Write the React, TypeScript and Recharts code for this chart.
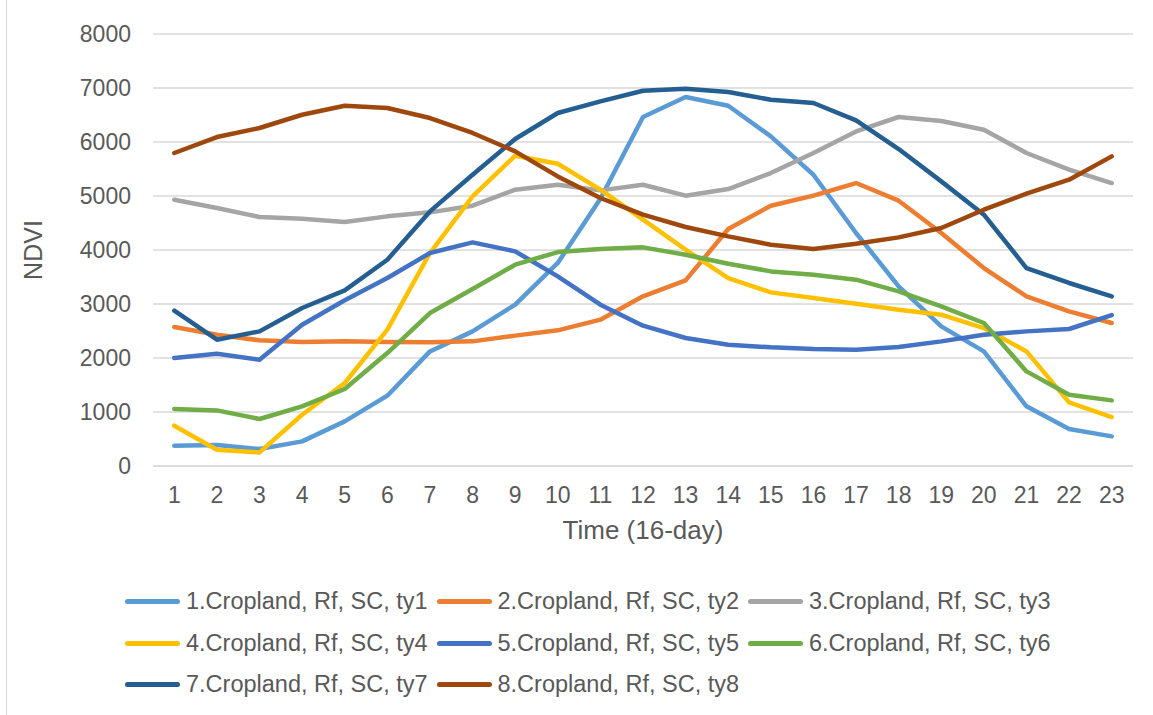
import { CartesianGrid, Label, Line, LineChart, XAxis, YAxis } from "recharts";

const periods = ["1", "2", "3", "4", "5", "6", "7", "8", "9", "10", "11", "12", "13", "14", "15", "16", "17", "18", "19", "20", "21", "22", "23"];

const ty1 = [376, 389, 315, 456, 826, 1302, 2122, 2493, 2987, 3760, 4950, 6463, 6833, 6672, 6104, 5394, 4315, 3327, 2586, 2123, 1105, 685, 549];
const ty2 = [2574, 2432, 2327, 2296, 2308, 2296, 2290, 2308, 2414, 2512, 2710, 3142, 3438, 4389, 4820, 5006, 5240, 4913, 4315, 3666, 3142, 2864, 2648];
const ty3 = [4932, 4777, 4611, 4580, 4518, 4623, 4697, 4820, 5117, 5209, 5104, 5209, 5006, 5129, 5425, 5796, 6196, 6463, 6390, 6228, 5796, 5487, 5240];
const ty4 = [746, 302, 252, 950, 1537, 2524, 3944, 4993, 5746, 5598, 5117, 4561, 4006, 3481, 3215, 3111, 3006, 2894, 2802, 2555, 2122, 1178, 907];
const ty5 = [2000, 2080, 1969, 2617, 3068, 3481, 3944, 4141, 3975, 3512, 2987, 2598, 2370, 2246, 2197, 2166, 2154, 2203, 2308, 2432, 2493, 2537, 2796];
const ty6 = [1055, 1030, 870, 1104, 1426, 2092, 2833, 3277, 3728, 3962, 4018, 4049, 3913, 3746, 3604, 3543, 3450, 3234, 2956, 2648, 1752, 1320, 1215];
const ty7 = [2876, 2339, 2493, 2926, 3252, 3820, 4715, 5394, 6055, 6537, 6752, 6950, 6987, 6925, 6783, 6722, 6400, 5870, 5271, 4654, 3666, 3389, 3142];
const ty8 = [5796, 6092, 6259, 6505, 6672, 6629, 6444, 6167, 5826, 5363, 4963, 4654, 4426, 4252, 4098, 4018, 4117, 4234, 4407, 4746, 5043, 5302, 5734];

const yTicks = [0, 1000, 2000, 3000, 4000, 5000, 6000, 7000, 8000];

const series = [
  { key: "ty1", name: "1.Cropland, Rf, SC, ty1", color: "#5B9BD5", values: ty1 },
  { key: "ty2", name: "2.Cropland, Rf, SC, ty2", color: "#ED7D31", values: ty2 },
  { key: "ty3", name: "3.Cropland, Rf, SC, ty3", color: "#A5A5A5", values: ty3 },
  { key: "ty4", name: "4.Cropland, Rf, SC, ty4", color: "#FFC000", values: ty4 },
  { key: "ty5", name: "5.Cropland, Rf, SC, ty5", color: "#4472C4", values: ty5 },
  { key: "ty6", name: "6.Cropland, Rf, SC, ty6", color: "#70AD47", values: ty6 },
  { key: "ty7", name: "7.Cropland, Rf, SC, ty7", color: "#255E91", values: ty7 },
  { key: "ty8", name: "8.Cropland, Rf, SC, ty8", color: "#9E480E", values: ty8 },
];

const data = periods.map((p, i) => {
  const row: Record<string, string | number> = { period: p };
  series.forEach((s) => (row[s.key] = s.values[i]));
  return row;
});

const font = "'Liberation Sans', Arial, sans-serif";
const textColor = "#595959";

// legend drawn as plain html below the plot so it doesn't shrink the plot area
function LegendBox() {
  return (
    <div style={{ position: "absolute", left: 125, top: 581, width: 960, display: "flex", flexWrap: "wrap", fontFamily: font, fontSize: 23.5, color: textColor }}>
      {series.map((s) => (
        <div key={s.key} style={{ width: 311.5, height: 41.5, display: "flex", alignItems: "center" }}>
          <span style={{ display: "inline-block", width: 55, height: 5, borderRadius: 3, background: s.color, marginRight: 6 }} />
          <span style={{ whiteSpace: "nowrap" }}>{s.name}</span>
        </div>
      ))}
    </div>
  );
}

export default function App() {
  return (
    <div style={{ position: "absolute", left: 0, top: 0, width: 1153, height: 715, background: "#fff" }}>
      <div style={{ position: "absolute", left: 6, top: 0, width: 1, height: 715, background: "#d9d9d9" }} />
      <LineChart width={1153} height={715} data={data} margin={{ top: 34, right: 20, bottom: 209, left: 0 }}>
        <CartesianGrid vertical={false} stroke="#d9d9d9" strokeWidth={1.5} />
        <XAxis
          dataKey="period"
          height={40}
          padding={{ left: 21.3, right: 21.3 }}
          axisLine={{ stroke: "#d9d9d9", strokeWidth: 1.5 }}
          tickLine={false}
          tickMargin={15}
          interval={0}
          tick={{ fill: textColor, fontSize: 23, fontFamily: font }}
        >
          <Label value="Time (16-day)" position="bottom" offset={15} fill={textColor} fontSize={26} fontFamily={font} />
        </XAxis>
        <YAxis
          width={153}
          domain={[0, 8000]}
          ticks={yTicks}
          axisLine={false}
          tickLine={false}
          tickMargin={16}
          tick={{ fill: textColor, fontSize: 23, fontFamily: font }}
        >
          <Label
            content={({ viewBox }: any) => (
              <text
                x={33}
                y={viewBox.y + viewBox.height / 2}
                transform={`rotate(-90, 33, ${viewBox.y + viewBox.height / 2})`}
                textAnchor="middle"
                dominantBaseline="central"
                fill={textColor}
                fontSize={25}
                fontFamily={font}
              >
                NDVI
              </text>
            )}
          />
        </YAxis>
        {series.map((s) => (
          <Line
            key={s.key}
            dataKey={s.key}
            name={s.name}
            stroke={s.color}
            strokeWidth={4.5}
            strokeLinecap="round"
            strokeLinejoin="round"
            dot={false}
            activeDot={false}
            isAnimationActive={false}
          />
        ))}
      </LineChart>
      <LegendBox />
    </div>
  );
}
